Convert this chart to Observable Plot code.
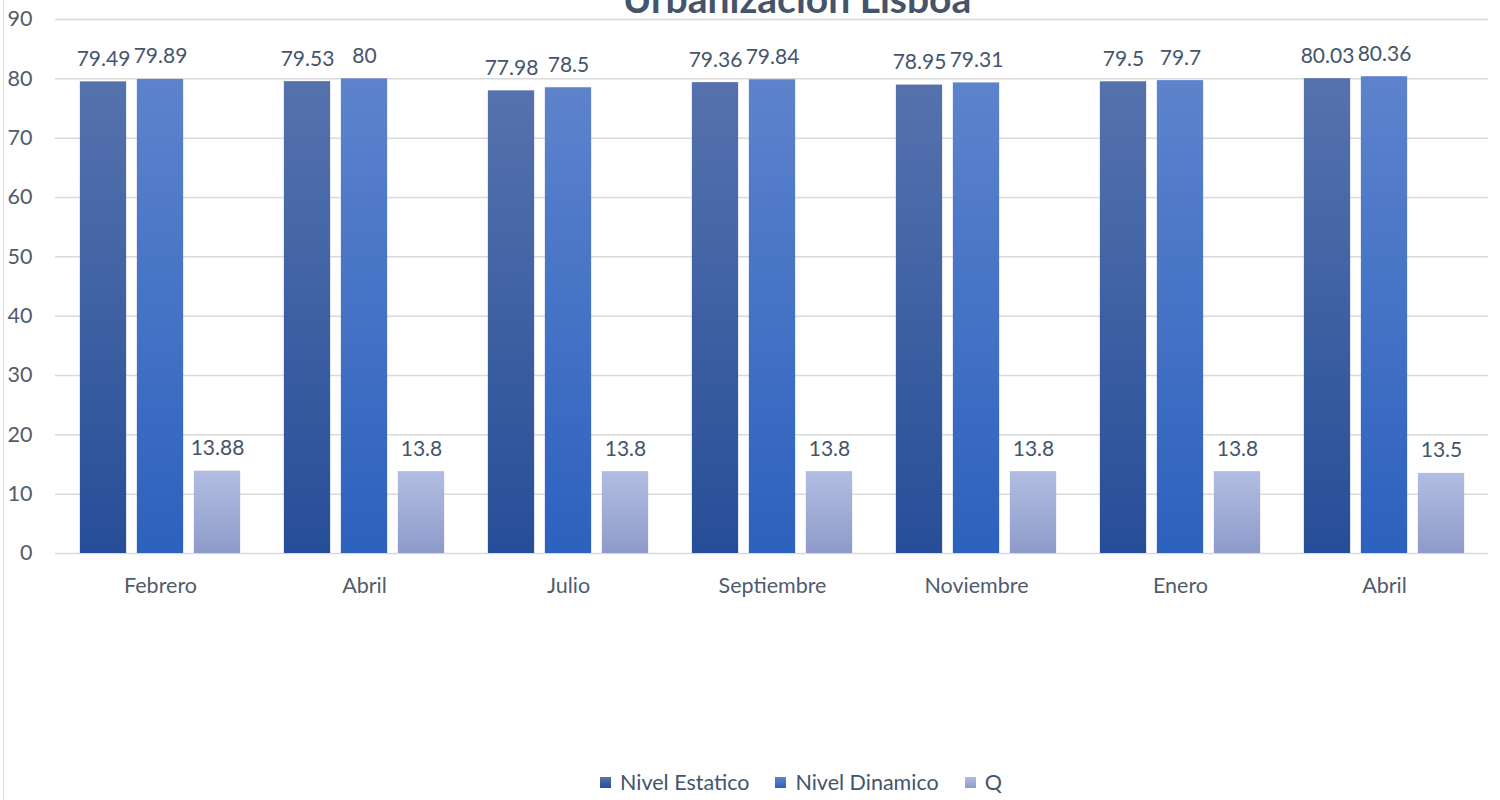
<!DOCTYPE html>
<html>
<head>
<meta charset="utf-8">
<script src="https://cdn.jsdelivr.net/npm/d3@7"></script>
<script src="https://cdn.jsdelivr.net/npm/@observablehq/plot@0.6"></script>
<style>
  html, body { margin: 0; padding: 0; background: #fff; }
  body { width: 1500px; height: 800px; position: relative; overflow: hidden; font-family: Lato, "Open Sans", sans-serif; }
  #border { position: absolute; left: 3px; top: 0; width: 1px; height: 800px; background: #d9d9d9; }
  #title { position: absolute; left: 0; top: 0; }
  #chart { position: absolute; left: 0; top: 0; }
  #legend { position: absolute; left: 600px; top: 768px; display: flex; align-items: center; font-size: 21.5px; color: #44546a; white-space: nowrap; line-height: 28px; }
  #legend .item { display: flex; align-items: center; margin-right: 26px; }
  #legend .sw { width: 11px; height: 11px; margin-right: 9px; }
</style>
</head>
<body>
<div id="border"></div>
<div id="chart"></div>
<svg id="title" width="1500" height="40"><text x="797" y="13" text-anchor="middle" font-family="Lato, sans-serif" font-weight="bold" font-size="39" fill="#44546a">Urbanización Lisboa</text></svg>
<div id="legend"></div>
<script>
const months = ["Febrero", "Abril", "Julio", "Septiembre", "Noviembre", "Enero", "Abril"];
const series = ["Nivel Estatico", "Nivel Dinamico", "Q"];
const nivelEstatico = [79.49, 79.53, 77.98, 79.36, 78.95, 79.5, 80.03];
const nivelDinamico = [79.89, 80, 78.5, 79.84, 79.31, 79.7, 80.36];
const q = [13.88, 13.8, 13.8, 13.8, 13.8, 13.8, 13.5];
const yTicks = [0, 10, 20, 30, 40, 50, 60, 70, 80, 90];

const gradients = {
  "Nivel Estatico": ["#5672ad", "#264e98"],
  "Nivel Dinamico": ["#5d83cc", "#2c61be"],
  "Q": ["#b1bde1", "#8e9bca"]
};
const gradId = s => "g" + series.indexOf(s);

// layout of the three bars inside each month band (pixels)
const bandW = 1433 / months.length;
const barW = 47, gap = 10;
const groupW = 3 * barW + 2 * gap;
const lead = (bandW - groupW) / 2;

const seriesValues = [nivelEstatico, nivelDinamico, q];
const rows = seriesValues.map(vals => vals.map((v, i) => ({ idx: i, value: v })));

const defsMark = () => {
  const defs = d3.create("svg:defs");
  for (const s of series) {
    const g = defs.append("linearGradient").attr("id", gradId(s))
      .attr("x1", 0).attr("y1", 0).attr("x2", 0).attr("y2", 1);
    g.append("stop").attr("offset", "0%").attr("stop-color", gradients[s][0]);
    g.append("stop").attr("offset", "100%").attr("stop-color", gradients[s][1]);
  }
  return defs.node();
};

const barMarks = [];
series.forEach((s, j) => {
  const left = lead + j * (barW + gap);
  const right = bandW - left - barW;
  barMarks.push(Plot.barY(rows[j], {
    x: "idx", y: "value",
    insetLeft: left, insetRight: right,
    fill: `url(#${gradId(s)})`
  }));
  barMarks.push(Plot.text(rows[j], {
    x: "idx", y: "value",
    text: d => String(d.value),
    dx: left + barW / 2 - bandW / 2,
    lineAnchor: "bottom", dy: -16,
    fill: "#44546a", fontSize: 21
  }));
});

const chart = Plot.plot({
  width: 1500,
  height: 766,
  marginTop: 19,
  marginBottom: 213,
  marginLeft: 55,
  marginRight: 12,
  style: { fontFamily: "Lato, sans-serif", fontSize: "21.5px", color: "#505c6c", background: "transparent" },
  x: {
    type: "band",
    domain: d3.range(months.length),
    padding: 0,
    label: null,
    tickFormat: i => months[i],
    tickSize: 0,
    tickPadding: 24
  },
  y: { domain: [0, 90], ticks: yTicks, label: null, tickSize: 0, tickPadding: 23 },
  marks: [
    defsMark,
    Plot.gridY(yTicks, { stroke: "#d9d9d9", strokeOpacity: 1, strokeWidth: 1.5 }),
    ...barMarks
  ]
});
document.getElementById("chart").appendChild(chart);

const legend = document.getElementById("legend");
for (const s of series) {
  const item = document.createElement("div");
  item.className = "item";
  const sw = document.createElement("div");
  sw.className = "sw";
  sw.style.background = `linear-gradient(${gradients[s][0]}, ${gradients[s][1]})`;
  const t = document.createElement("span");
  t.textContent = s;
  item.appendChild(sw);
  item.appendChild(t);
  legend.appendChild(item);
}
</script>
</body>
</html>
